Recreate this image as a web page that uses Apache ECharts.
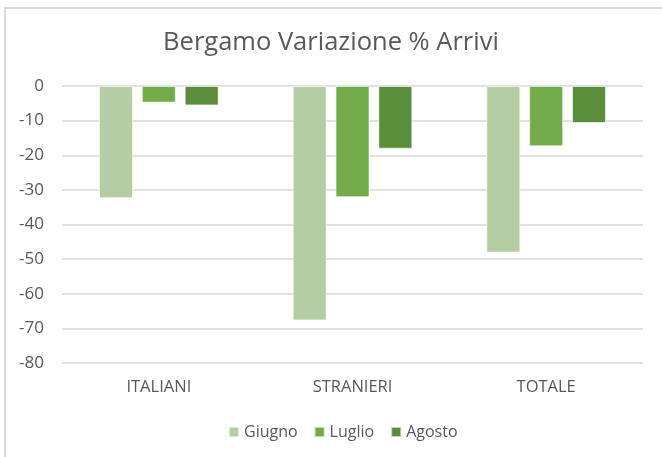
<!DOCTYPE html>
<html>
<head>
<meta charset="utf-8">
<script src="https://cdn.jsdelivr.net/npm/echarts@6/dist/echarts.min.js"></script>
<style>
  html, body { margin: 0; padding: 0; background: #fff; }
  #frame { position: absolute; left: 4px; top: 7px; width: 658px; height: 450px;
           border-top: 2px solid #d9d9d9; border-left: 2px solid #d9d9d9; box-sizing: border-box; }
  #chart { position: absolute; left: 0; top: 0; width: 662px; height: 457px; }
</style>
</head>
<body>
<div id="frame"></div>
<div id="chart"></div>
<script>
// dati
const categorie = ['ITALIANI', 'STRANIERI', 'TOTALE'];
const giugno = [-32.4, -67.7, -48.1];
const luglio = [-4.8, -32.1, -17.4];
const agosto = [-5.6, -18.1, -10.7];
const yTicks = { min: -80, max: 0, step: 10 };

const font = "'Open Sans', sans-serif";
const chart = echarts.init(document.getElementById('chart'), null, { renderer: 'canvas' });

function serie(nome, dati, colore) {
    return {
        name: nome,
        type: 'bar',
        data: dati,
        barWidth: 34,
        barGap: '26%',
        itemStyle: { color: colore, borderColor: 'rgba(255,255,255,0.6)', borderWidth: 1 }
    };
}

chart.setOption({
    animation: false,
    title: {
        text: 'Bergamo Variazione % Arrivi',
        left: 'center',
        top: 25,
        textStyle: { fontFamily: font, fontSize: 25.5, fontWeight: 'normal', color: '#595959' }
    },
    legend: {
        bottom: 12,
        left: 223,
        itemWidth: 10,
        itemHeight: 10,
        itemGap: 16,
        icon: 'rect',
        textStyle: { fontFamily: font, fontSize: 16, color: '#595959' }
    },
    grid: { left: 62, right: 19, top: 86, bottom: 94 },
    xAxis: {
        type: 'category',
        data: categorie,
        position: 'bottom',
        axisLine: { show: false, onZero: false },
        axisTick: { show: false },
        axisLabel: { fontFamily: font, fontSize: 16.5, color: '#595959', margin: 16 }
    },
    yAxis: {
        type: 'value',
        min: yTicks.min,
        max: yTicks.max,
        interval: yTicks.step,
        axisLine: { show: false },
        axisTick: { show: false },
        axisLabel: { fontFamily: font, fontSize: 17, color: '#595959', margin: 18 },
        splitLine: { lineStyle: { color: '#d9d9d9', width: 1.5 } }
    },
    series: [
        serie('Giugno', giugno, '#b5cda5'),
        serie('Luglio', luglio, '#72ac48'),
        serie('Agosto', agosto, '#5b8e3a')
    ]
});
</script>
</body>
</html>
